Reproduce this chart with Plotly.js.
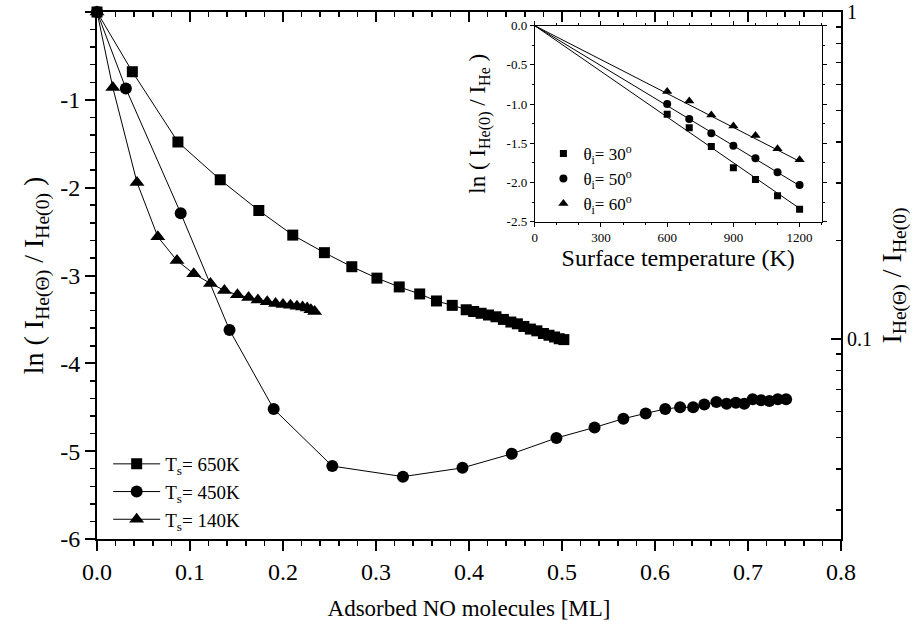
<!DOCTYPE html>
<html>
<head>
<meta charset="utf-8">
<script src="https://cdn.plot.ly/plotly-3.0.1.min.js"></script>
<style>html,body{margin:0;padding:0;background:#fff;}</style>
</head>
<body>
<div id="chart" style="width:915px;height:631px;"></div>
<script>
// ---- main chart data ----
const x650 = [0, 0.038, 0.087, 0.1325, 0.174, 0.2105, 0.2445, 0.274, 0.301, 0.325, 0.347, 0.365, 0.382, 0.397, 0.405, 0.413, 0.421, 0.429, 0.437, 0.445, 0.452, 0.459, 0.466, 0.473, 0.480, 0.486, 0.492, 0.497, 0.502];
const y650 = [0, -0.68, -1.48, -1.91, -2.26, -2.54, -2.74, -2.90, -3.03, -3.13, -3.21, -3.29, -3.34, -3.39, -3.41, -3.43, -3.45, -3.47, -3.50, -3.53, -3.55, -3.58, -3.61, -3.63, -3.66, -3.68, -3.70, -3.72, -3.73];

const x450 = [0, 0.031, 0.090, 0.1425, 0.190, 0.253, 0.329, 0.393, 0.446, 0.494, 0.535, 0.566, 0.590, 0.611, 0.627, 0.641, 0.653, 0.666, 0.677, 0.687, 0.696, 0.705, 0.714, 0.723, 0.732, 0.741];
const y450 = [0, -0.87, -2.29, -3.62, -4.52, -5.17, -5.29, -5.19, -5.03, -4.85, -4.73, -4.63, -4.57, -4.52, -4.50, -4.50, -4.47, -4.44, -4.46, -4.45, -4.46, -4.41, -4.42, -4.43, -4.41, -4.41];

const x140 = [0, 0.017, 0.043, 0.0654, 0.086, 0.104, 0.122, 0.137, 0.151, 0.163, 0.173, 0.183, 0.192, 0.200, 0.208, 0.215, 0.221, 0.226, 0.230, 0.234];
const y140 = [0, -0.86, -1.94, -2.56, -2.83, -2.98, -3.09, -3.17, -3.22, -3.25, -3.28, -3.30, -3.32, -3.33, -3.34, -3.35, -3.36, -3.37, -3.39, -3.41];

const mainNames = ['T<sub>s</sub>= 650K', 'T<sub>s</sub>= 450K', 'T<sub>s</sub>= 140K'];

// tick labels
const yTickVals = [0, -1, -2, -3, -4, -5, -6];
const yTickText = ['0', '-1', '-2', '-3', '-4', '-5', '-6'];
const y2TickVals = [0.1, 1];
const y2TickText = ['0.1', '1'];
const y2MinorVals = [0.03, 0.04, 0.05, 0.06, 0.07, 0.08, 0.09, 0.2, 0.3, 0.4, 0.5, 0.6, 0.7, 0.8, 0.9];

// ---- inset data ----
const insetT = [600, 700, 800, 900, 1000, 1100, 1200];
const ins30 = [-1.13, -1.30, -1.54, -1.81, -1.96, -2.17, -2.34];
const ins50 = [-1.00, -1.19, -1.37, -1.53, -1.69, -1.87, -2.03];
const ins60 = [-0.84, -0.96, -1.14, -1.28, -1.40, -1.57, -1.71];
const fitT = [0, 1200];
const fit30 = [0, -2.33];
const fit50 = [0, -2.04];
const fit60 = [0, -1.73];
const insetNames = ['θ<sub>i</sub>= 30<sup>o</sup>', 'θ<sub>i</sub>= 50<sup>o</sup>', 'θ<sub>i</sub>= 60<sup>o</sup>'];
const insXTicks = [0, 300, 600, 900, 1200];
const insYTickVals = [0, -0.5, -1.0, -1.5, -2.0, -2.5];
const insYTickText = ['0.0', '-0.5', '-1.0', '-1.5', '-2.0', '-2.5'];

const FONT = 'Liberation Serif';
const ln = {color: '#000', width: 1};

const traces = [
  {x: x650, y: y650, name: mainNames[0], mode: 'lines+markers', line: ln,
   marker: {symbol: 'square', size: 11, color: '#000'}, cliponaxis: false, xaxis: 'x', yaxis: 'y'},
  {x: x450, y: y450, name: mainNames[1], mode: 'lines+markers', line: ln,
   marker: {symbol: 'circle', size: 12, color: '#000'}, cliponaxis: false, xaxis: 'x', yaxis: 'y'},
  {x: x140, y: y140, name: mainNames[2], mode: 'lines+markers', line: ln,
   marker: {symbol: 'triangle-up', size: 13, color: '#000'}, cliponaxis: false, xaxis: 'x', yaxis: 'y'},
  // dummy for the top / right axes
  {x: [0.4], y: [0.5], mode: 'markers', marker: {opacity: 0}, showlegend: false, hoverinfo: 'skip', xaxis: 'x2', yaxis: 'y2'},
  // inset fits
  {x: fitT, y: fit30, mode: 'lines', line: ln, showlegend: false, xaxis: 'x3', yaxis: 'y3'},
  {x: fitT, y: fit50, mode: 'lines', line: ln, showlegend: false, xaxis: 'x3', yaxis: 'y3'},
  {x: fitT, y: fit60, mode: 'lines', line: ln, showlegend: false, xaxis: 'x3', yaxis: 'y3'},
  // inset points
  {x: insetT, y: ins30, name: insetNames[0], mode: 'markers', marker: {symbol: 'square', size: 7, color: '#000'},
   legend: 'legend2', xaxis: 'x3', yaxis: 'y3'},
  {x: insetT, y: ins50, name: insetNames[1], mode: 'markers', marker: {symbol: 'circle', size: 8, color: '#000'},
   legend: 'legend2', xaxis: 'x3', yaxis: 'y3'},
  {x: insetT, y: ins60, name: insetNames[2], mode: 'markers', marker: {symbol: 'triangle-up', size: 9, color: '#000'},
   legend: 'legend2', xaxis: 'x3', yaxis: 'y3'}
];

const axBase = {showline: true, linecolor: '#000', zeroline: false, showgrid: false, tickcolor: '#000'};

const layout = {
  width: 915, height: 631,
  margin: {l: 97, r: 74, t: 12, b: 92, pad: 0},
  paper_bgcolor: '#fff', plot_bgcolor: 'rgba(0,0,0,0)',
  font: {family: FONT, color: '#000'},
  showlegend: true,
  xaxis: Object.assign({}, axBase, {
    domain: [0, 1], anchor: 'y', range: [0, 0.8], tickmode: 'linear', tick0: 0, dtick: 0.1, tickformat: '.1f',
    ticks: 'outside', ticklen: 10, tickwidth: 2, linewidth: 2,
    minor: {dtick: 0.02, tick0: 0, ticks: 'outside', ticklen: 5, tickwidth: 1.5, tickcolor: '#000'},
    tickfont: {size: 24, family: FONT},
    title: {text: 'Adsorbed NO molecules [ML]', font: {size: 23, family: FONT}, standoff: 16}
  }),
  xaxis2: Object.assign({}, axBase, {
    overlaying: 'x', side: 'top', anchor: 'y', range: [0, 0.8], tickmode: 'linear', tick0: 0, dtick: 0.1,
    ticks: 'inside', ticklen: 10, tickwidth: 2, linewidth: 2, showticklabels: false,
    minor: {dtick: 0.02, tick0: 0, ticks: 'inside', ticklen: 5, tickwidth: 1.5, tickcolor: '#000'}
  }),
  yaxis: Object.assign({}, axBase, {
    domain: [0, 1], anchor: 'x', range: [-6, 0], tickmode: 'array', tickvals: yTickVals, ticktext: yTickText,
    ticks: 'outside', ticklen: 10, tickwidth: 2, linewidth: 2,
    minor: {dtick: 0.2, tick0: 0, ticks: 'outside', ticklen: 5, tickwidth: 1.5, tickcolor: '#000'},
    tickfont: {size: 24, family: FONT},
    title: {text: 'ln ( I<sub>He(Θ)</sub> / I<sub>He(0)</sub> )', font: {size: 28, family: FONT}, standoff: 8}
  }),
  yaxis2: Object.assign({}, axBase, {
    type: 'log', overlaying: 'y', side: 'right', anchor: 'x2', range: [-1.612, 0],
    tickmode: 'array', tickvals: y2TickVals, ticktext: y2TickText,
    ticks: 'inside', ticklen: 10, tickwidth: 2, linewidth: 2,
    minor: {tickmode: 'array', tickvals: y2MinorVals, ticks: 'inside', ticklen: 5, tickwidth: 1.5, tickcolor: '#000'},
    tickfont: {size: 20, family: FONT},
    title: {text: 'I<sub>He(Θ)</sub> / I<sub>He(0)</sub>', font: {size: 28, family: FONT}, standoff: 10}
  }),
  xaxis3: Object.assign({}, axBase, {
    domain: [0.5884, 0.974], anchor: 'y3', range: [0, 1300], tickmode: 'array', tickvals: insXTicks,
    ticks: 'outside', ticklen: 4, tickwidth: 1, linewidth: 1, mirror: 'allticks',
    minor: {dtick: 100, tick0: 0, ticks: 'outside', ticklen: 2, tickwidth: 1, tickcolor: '#000'},
    tickfont: {size: 13, family: FONT},
    title: {text: 'Surface temperature (K)', font: {size: 24, family: FONT}, standoff: 4}
  }),
  yaxis3: Object.assign({}, axBase, {
    domain: [0.602, 0.974], anchor: 'x3', range: [-2.5, 0], tickmode: 'array', tickvals: insYTickVals, ticktext: insYTickText,
    ticks: 'outside', ticklen: 4, tickwidth: 1, linewidth: 1, mirror: 'allticks',
    minor: {dtick: 0.25, tick0: 0, ticks: 'outside', ticklen: 2, tickwidth: 1, tickcolor: '#000'},
    tickfont: {size: 13, family: FONT},
    title: {text: 'ln ( I<sub>He(0)</sub> / I<sub>He</sub> )', font: {size: 23, family: FONT}, standoff: 14}
  }),
  legend: {x: 0.015, y: 0.0, xanchor: 'left', yanchor: 'bottom', bgcolor: 'rgba(0,0,0,0)',
           font: {size: 19, family: FONT}, itemwidth: 47, tracegroupgap: 0, traceorder: 'normal'},
  legend2: {x: 0.6, y: 0.765, xanchor: 'left', yanchor: 'top', bgcolor: 'rgba(0,0,0,0)',
            font: {size: 17, family: FONT}, itemwidth: 30, tracegroupgap: 0, traceorder: 'normal'}
};

Plotly.newPlot('chart', traces, layout, {staticPlot: true, displayModeBar: false});
</script>
</body>
</html>
